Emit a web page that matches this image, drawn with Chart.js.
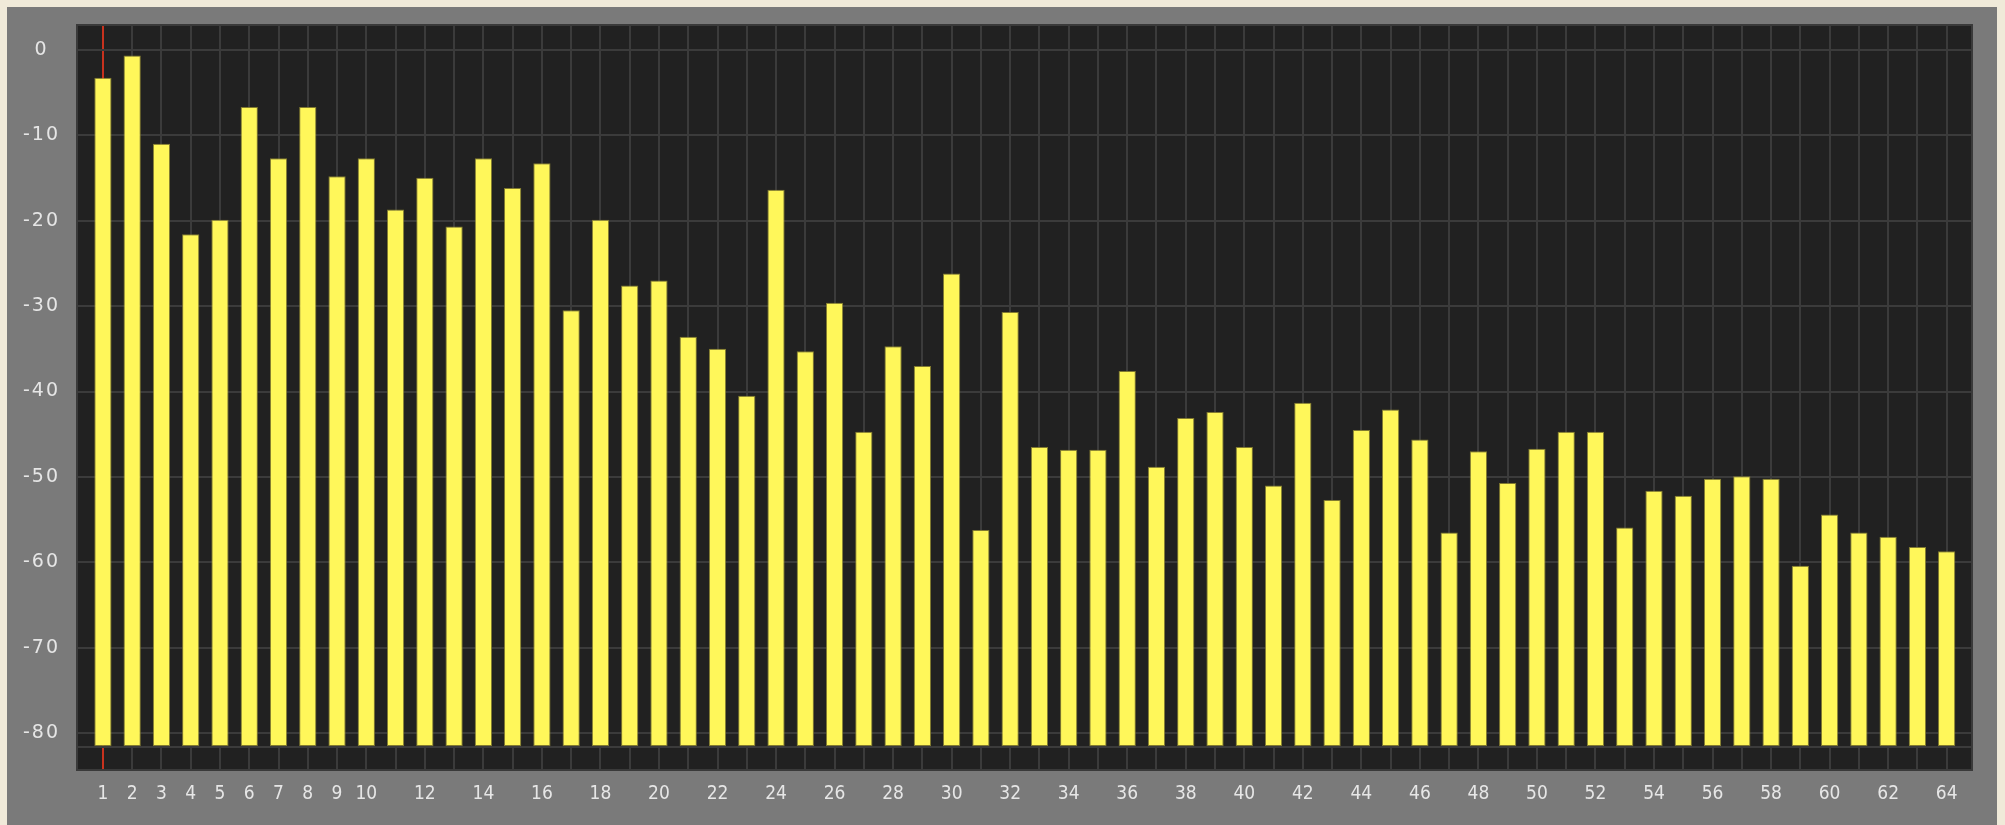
<!DOCTYPE html>
<html>
<head>
<meta charset="utf-8">
<script src="https://cdn.jsdelivr.net/npm/chart.js@4.4.1/dist/chart.umd.min.js"></script>
<style>
  html, body { margin: 0; padding: 0; }
  body {
    width: 2005px; height: 825px; overflow: hidden; position: relative;
    background: #f0ead9;
  }
  #panel {
    position: absolute; left: 7px; top: 7px; width: 1990px; height: 818px;
    background: #7a7a7a;
  }
  #wrap { position: absolute; left: 0; top: 0; width: 2005px; height: 825px; }
</style>
</head>
<body>
<div id="panel"></div>
<div id="wrap"><canvas id="chart" width="2005" height="825"></canvas></div>
<script>
// Band numbers along the horizontal axis
const bands = Array.from({ length: 64 }, (_, i) => i + 1);

// Level of each band (dB)
const levels = [
  -3.3, -0.7, -11.0, -21.6, -19.9, -6.7, -12.7, -6.7, -14.8, -12.7,
  -18.7, -15.0, -20.7, -12.7, -16.2, -13.3, -30.5, -19.9, -27.6, -27.0,
  -33.6, -35.0, -40.5, -16.4, -35.3, -29.6, -44.7, -34.7, -37.0, -26.2,
  -56.2, -30.7, -46.5, -46.8, -46.8, -37.6, -48.8, -43.1, -42.4, -46.5,
  -51.0, -41.3, -52.7, -44.5, -42.1, -45.6, -56.5, -47.0, -50.7, -46.7,
  -44.7, -44.7, -55.9, -51.6, -52.2, -50.2, -49.9, -50.2, -60.4, -54.4,
  -56.5, -57.0, -58.2, -58.7
];

// Tick labels
const xTickLabels = [1, 2, 3, 4, 5, 6, 7, 8, 9, 10, 12, 14, 16, 18, 20, 22, 24, 26, 28, 30,
  32, 34, 36, 38, 40, 42, 44, 46, 48, 50, 52, 54, 56, 58, 60, 62, 64];
const yTickLabels = [0, -10, -20, -30, -40, -50, -60, -70, -80];

// Bars rise from this floor level
const FLOOR = -81.6;
const Y_MIN = -84.4;
const Y_MAX = 3.0;
const X_MIN = 0.08;
const X_MAX = 64.9;

const plotBackground = {
  id: 'plotBackground',
  beforeDraw(chart) {
    const { ctx, chartArea: a } = chart;
    ctx.save();
    ctx.fillStyle = '#212121';
    ctx.fillRect(a.left, a.top, a.right - a.left, a.bottom - a.top);
    ctx.restore();

    // the dB labels are drawn slightly letter-spaced
    const y = chart.scales.y;
    if (y && !y._spaced) {
      const drawLabels = y.drawLabels.bind(y);
      y.drawLabels = function (area) {
        chart.ctx.save();
        chart.ctx.letterSpacing = '2px';
        drawLabels(area);
        chart.ctx.restore();
      };
      y._spaced = true;
    }
  },
  afterDraw(chart) {
    const { ctx, chartArea: a } = chart;
    ctx.save();
    ctx.strokeStyle = '#3a3a3a';
    ctx.lineWidth = 2;
    ctx.strokeRect(a.left + 1, a.top + 1, a.right - a.left - 2, a.bottom - a.top - 2);
    ctx.restore();
  }
};

new Chart(document.getElementById('chart'), {
  type: 'bar',
  data: {
    datasets: [{
      data: bands.map((b, i) => ({ x: b, y: levels[i] })),
      base: FLOOR,
      backgroundColor: '#fff75a',
      borderColor: 'rgba(140, 132, 50, 0.9)',
      borderWidth: 1,
      borderSkipped: false,
      barPercentage: 0.59,
      categoryPercentage: 1.0
    }]
  },
  options: {
    responsive: false,
    animation: false,
    layout: { padding: { left: 7, top: 24, right: 32, bottom: 0 } },
    plugins: { legend: { display: false }, tooltip: { enabled: false } },
    scales: {
      x: {
        type: 'linear',
        min: X_MIN,
        max: X_MAX,
        offset: false,
        afterBuildTicks(scale) { scale.ticks = bands.map(v => ({ value: v })); },
        afterFit(scale) { scale.height = 54; scale.paddingLeft = 0; scale.paddingRight = 0; },
        grid: {
          offset: false,
          drawTicks: false,
          lineWidth: 2,
          color: ctx => (ctx.tick && ctx.tick.value === 1) ? '#c8321e' : '#3b3b3b'
        },
        border: { display: false },
        ticks: {
          autoSkip: false,
          maxRotation: 0,
          padding: 12,
          color: '#e6e6e6',
          font: { family: "'DejaVu Sans Condensed', 'DejaVu Sans', sans-serif", size: 19 },
          callback: v => xTickLabels.includes(v) ? String(v) : ''
        }
      },
      y: {
        min: Y_MIN,
        max: Y_MAX,
        afterBuildTicks(scale) {
          scale.ticks = [FLOOR, ...yTickLabels.slice().reverse()].map(v => ({ value: v }));
        },
        afterFit(scale) { scale.width = 69; scale.paddingTop = 0; scale.paddingBottom = 0; },
        grid: { drawTicks: false, lineWidth: 2, color: '#3b3b3b' },
        border: { display: false },
        ticks: {
          crossAlign: 'center',
          padding: 19,
          color: '#e6e6e6',
          font: { family: "'DejaVu Sans', sans-serif", size: 19 },
          callback: v => yTickLabels.includes(v) ? String(v) : ''
        }
      }
    }
  },
  plugins: [plotBackground]
});
</script>
</body>
</html>
